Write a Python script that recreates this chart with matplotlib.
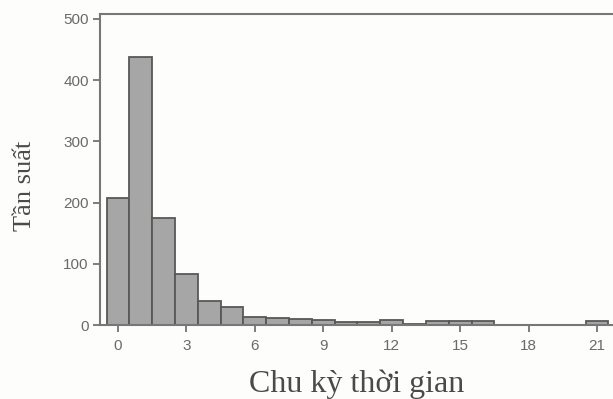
import matplotlib.pyplot as plt
import numpy as np

# Số lần quan sát theo từng chu kỳ thời gian (0..21)
chu_ky = np.arange(0, 22)
tan_suat = [208, 438, 175, 83, 39, 30, 13, 12, 10, 8, 6, 5,
            8, 2, 7, 7, 7, 1, 1, 1, 1, 7]
xtick_vals = [0, 3, 6, 9, 12, 15, 18, 21]
ytick_vals = [0, 100, 200, 300, 400, 500]

fig = plt.figure(figsize=(6.13, 3.99), dpi=100)
fig.patch.set_facecolor('#fdfdfb')
ax = fig.add_axes([0.163, 0.185, 0.837, 0.78])
ax.set_facecolor('#fdfdfb')

ax.bar(chu_ky, tan_suat, width=1.0, color='#a6a6a6', edgecolor='#585858', linewidth=1.3)

ax.set_xlim(-0.79, 21.7)
ax.set_ylim(0, 508)
ax.set_xticks(xtick_vals)
ax.set_yticks(ytick_vals)
ax.tick_params(axis='both', direction='out', length=5, width=1.2, color='#666666',
               labelcolor='#6a6a6a', labelsize=11)
ax.tick_params(axis='x', pad=5)
ax.tick_params(axis='y', pad=3)
for lab in ax.get_xticklabels() + ax.get_yticklabels():
    lab.set_family('Liberation Sans')

for side in ['left', 'bottom', 'top']:
    ax.spines[side].set_color('#777777')
    ax.spines[side].set_linewidth(1.5)
ax.spines['right'].set_visible(False)

ax.set_xlabel('Chu kỳ thời gian', family='Liberation Serif', fontsize=23, color='#4a4a4a')
ax.set_ylabel('Tần suất', family='Liberation Serif', fontsize=19, color='#4a4a4a')
ax.xaxis.set_label_coords(0.501, -0.143)
ax.yaxis.set_label_coords(-0.125, 0.447)

fig.savefig('out.png', dpi=100, facecolor=fig.get_facecolor())
